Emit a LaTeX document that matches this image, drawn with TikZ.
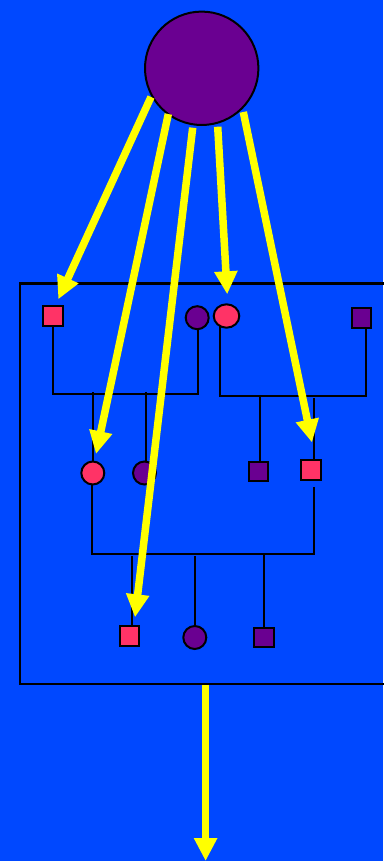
\documentclass[tikz,border=0pt]{standalone}
\usetikzlibrary{arrows.meta,shapes.geometric}
\pgfdeclarelayer{back}
\pgfdeclarelayer{bg}
\pgfdeclarelayer{fg}
\pgfsetlayers{back,bg,main,fg}
\definecolor{bgblue}{RGB}{0,72,255}
\definecolor{purp}{RGB}{106,0,145}
\definecolor{pink}{RGB}{255,51,102}
\definecolor{yel}{RGB}{255,255,0}
\tikzset{
  sq/.style={draw=black,line width=2pt,minimum size=19.5pt,inner sep=0pt,rectangle},
  ci/.style={draw=black,line width=2pt,minimum size=23pt,inner sep=0pt,circle},
  pk/.style={fill=pink},
  pp/.style={fill=purp},
  kin/.style={draw=black,line width=2pt},
  yarr/.style={draw=yel,line width=7.5pt,-{Triangle[width=22pt,length=23pt]}},
}
\begin{document}
\begin{tikzpicture}[x=1pt,y=-1pt]
\begin{pgfonlayer}{back}
\fill[bgblue] (0,0) rectangle (383,861);
\end{pgfonlayer}
\useasboundingbox (0,0) rectangle (383,861);
% frame
\node[draw=black,line width=2.2pt,minimum width=380pt,minimum height=400.4pt,inner sep=0pt,anchor=north west] (frame) at (19,282.3) {};
% top circle
\node[circle,draw=black,line width=2pt,fill=purp,minimum size=113.4pt,inner sep=0pt] (top) at (201.7,68.3) {};
% row 1
\node[sq,pk] (A) at (52.8,316.2) {};
\node[ci,pp] (B) at (197.2,317.7) {};
\node[ellipse,draw=black,line width=2pt,fill=pink,minimum width=25.6pt,minimum height=23.4pt,inner sep=0pt] (E) at (226.5,316) {};
\node[sq,pp] (F) at (361.3,318) {};
% row 2
\node[ci,pk] (C) at (92.8,473) {};
\node[ci,pp] (D) at (144.5,473) {};
\node[sq,pp] (G) at (258.7,471.5) {};
\node[sq,pk] (H) at (310.8,469.8) {};
% row 3
\node[sq,pk] (I) at (129.7,636) {};
\node[ci,pp] (J) at (194.8,637.5) {};
\node[sq,pp] (K) at (264,637.7) {};
% marriage / sibship coordinates
\coordinate (m1) at (0,394.3);
\coordinate (m2) at (0,396.3);
\coordinate (m3) at (0,554);
\begin{pgfonlayer}{bg}
  % couple 1
  \draw[kin] ([xshift=0.5pt]A.center) |- ([xshift=1pt]B.center|-m1) -- ([xshift=1pt]B.center);
  \draw[kin] ([xshift=0.2pt]C.center) -- ([xshift=0.2pt,yshift=2.5pt]C.center|-m1);
  \draw[kin] ([xshift=1.2pt]D.center) -- ([xshift=1.2pt,yshift=2.5pt]D.center|-m1);
  % couple 2
  \draw[kin] ([xshift=-6.2pt]E.center) |- ([xshift=4.4pt]F.center|-m2) -- ([xshift=4.4pt]F.center);
  \draw[kin] ([xshift=1.3pt]G.center) -- ([xshift=1.3pt]G.center|-m2);
  \draw[kin] ([xshift=2.9pt]H.center) -- ([xshift=2.9pt,yshift=-1.4pt]H.center|-m2);
  % couple 3
  \draw[kin] ([xshift=-0.8pt]C.center) |- ([xshift=3.5pt]H.center|-m3) -- ([xshift=3.5pt,yshift=-6.4pt]H.south);
  \draw[kin] ([xshift=2pt]I.center) -- ([xshift=2pt,yshift=-2pt]I.center|-m3);
  \draw[kin] ([xshift=0.2pt]J.center) -- ([xshift=0.2pt,yshift=-2pt]J.center|-m3);
  \draw[kin] ([xshift=0.3pt]K.center) -- ([xshift=0.3pt]K.center|-m3);
\end{pgfonlayer}
% yellow arrows
\coordinate (s1) at (151,97);    \coordinate (t1) at (58.3,299.3);
\coordinate (s2) at (168.3,114); \coordinate (t2) at (96,454);
\coordinate (s3) at (192.7,127.7); \coordinate (t3) at (135,617.3);
\coordinate (s4) at (217.7,126.7); \coordinate (t4) at (227.2,294.3);
\coordinate (s5) at (243.3,112);  \coordinate (t5) at (312,442.5);
\coordinate (t6) at (205.6,861);
\begin{pgfonlayer}{fg}
  \draw[yarr] (s1) -- (t1);
  \draw[yarr] (s2) -- (t2);
  \draw[yarr] (s3) -- (t3);
  \draw[yarr] (s4) -- (t4);
  \draw[yarr] (s5) -- (t5);
  \draw[yarr] (frame.south-|t6) -- (t6);
\end{pgfonlayer}
\end{tikzpicture}
\end{document}
